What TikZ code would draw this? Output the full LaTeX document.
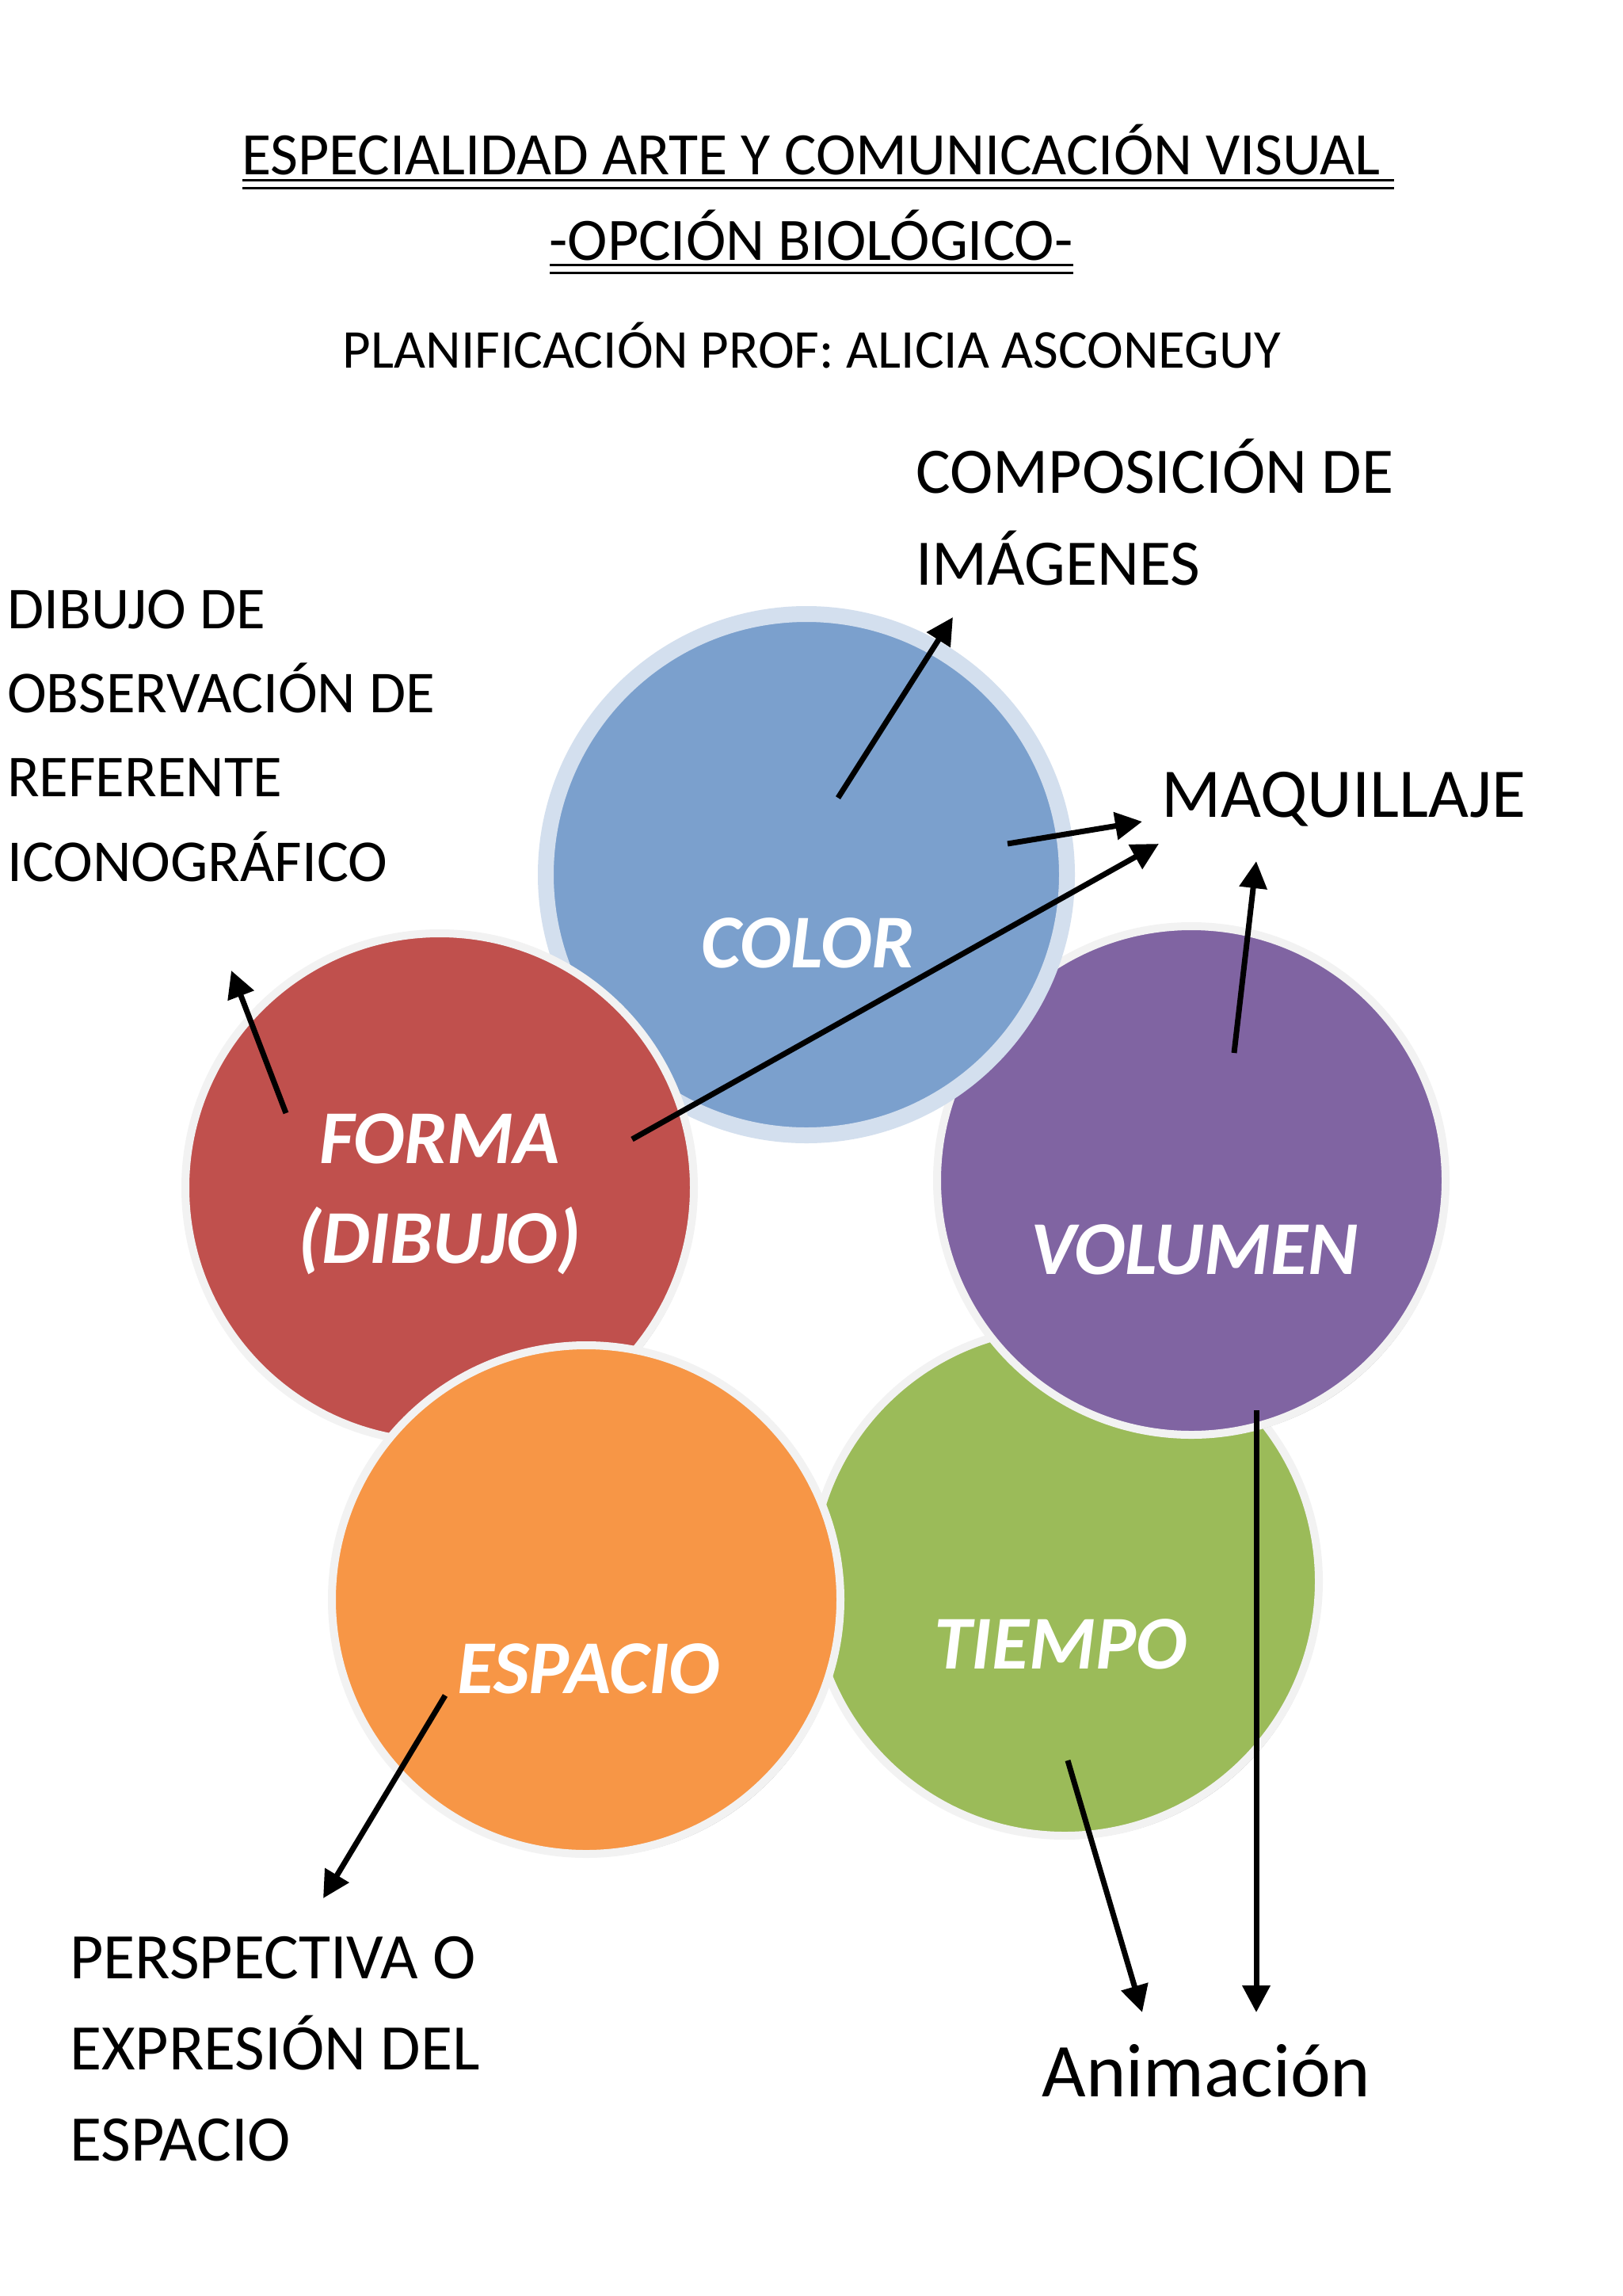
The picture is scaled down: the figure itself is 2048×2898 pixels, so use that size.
\documentclass[tikz,border=0pt]{standalone}
\usepackage{fontspec}
\setmainfont{Carlito}
\usetikzlibrary{arrows.meta,shadows}
\definecolor{cblue}{HTML}{7BA0CD}
\definecolor{cbluering}{HTML}{D3DFEE}
\definecolor{cred}{HTML}{C0504D}
\definecolor{cpurple}{HTML}{8064A2}
\definecolor{cgreen}{HTML}{9BBB59}
\definecolor{corange}{HTML}{F79646}
\definecolor{cring}{HTML}{F2F2F2}
\begin{document}
\begin{tikzpicture}[x=1pt,y=-1pt,
  disc/.style={circle,inner sep=0pt,outer sep=0pt,minimum size=642pt,draw=cring,line width=10pt,
    drop shadow={shadow xshift=3pt,shadow yshift=-4pt,opacity=0.35,fill=black}},
  lbl/.style={inner sep=0pt,anchor=base,text=white,font=\fontsize{96}{110}\selectfont\bfseries\itshape},
  side/.style={inner sep=0pt,anchor=base west,text=black},
  ttl/.style={inner sep=0pt,anchor=base,text=black},
  uline/.style={line width=3pt,black},
  conn/.style={line width=7pt,black,-{Triangle[length=34pt,width=34pt]}}]
\useasboundingbox (0,0) rectangle (2048,2898);
\fill[white] (0,0) rectangle (2048,2898);

% title
\node[ttl,font=\fontsize{76}{90}\selectfont] (t1) at (1024,221) {ESPECIALIDAD ARTE Y COMUNICACIÓN VISUAL};
\node[ttl,font=\fontsize{76}{90}\selectfont] (t2) at (1024,328) {-OPCIÓN BIOLÓGICO-};
\node[ttl,font=\fontsize{69}{80}\selectfont] (t3) at (1025,464) {PLANIFICACIÓN PROF: ALICIA ASCONEGUY};
\draw[uline] (306,227) -- (1760,227);
\draw[uline] (306,237) -- (1760,237);
\draw[uline] (694,334) -- (1355,334);
\draw[uline] (694,344) -- (1355,344);

% circles (bottom to top)
\node[disc,fill=cgreen] (tiempo) at (1344,1996) {};
\node[disc,fill=cpurple] (volumen) at (1504,1490) {};
\node[circle,inner sep=0pt,outer sep=0pt,minimum size=658pt,draw=cbluering,line width=20pt,fill=cblue] (color) at (1018,1104) {};
\node[disc,fill=cred] (forma) at (555,1499) {};
\node[disc,fill=corange] (espacio) at (740,2019) {};

% circle labels
\node[lbl] (lcolor) at (1020,1221) {COLOR};
\node[lbl] (lforma1) at (555,1468) {FORMA};
\node[lbl] (lforma2) at (555,1594) {(DIBUJO)};
\node[lbl] (lvol) at (1508,1608) {VOLUMEN};
\node[lbl] (lesp) at (743,2137) {ESPACIO};
\node[lbl] (ltiem) at (1339,2106) {TIEMPO};

% side labels
\node[side,font=\fontsize{75}{90}\selectfont] (dib1) at (9,793) {DIBUJO DE};
\node[side,font=\fontsize{75}{90}\selectfont] (dib2) at (9,899) {OBSERVACIÓN DE};
\node[side,font=\fontsize{75}{90}\selectfont] (dib3) at (9,1005) {REFERENTE};
\node[side,font=\fontsize{75}{90}\selectfont] (dib4) at (9,1112) {ICONOGRÁFICO};
\node[side,font=\fontsize{82}{95}\selectfont] (comp1) at (1156,622) {COMPOSICIÓN DE};
\node[side,font=\fontsize{82}{95}\selectfont] (comp2) at (1156,738) {IMÁGENES};
\node[side,font=\fontsize{88}{100}\selectfont] (maq) at (1466,1031) {MAQUILLAJE};
\node[side,font=\fontsize{82}{95}\selectfont] (per1) at (88,2497) {PERSPECTIVA O};
\node[side,font=\fontsize{82}{95}\selectfont] (per2) at (88,2612) {EXPRESIÓN DEL};
\node[side,font=\fontsize{82}{95}\selectfont] (per3) at (88,2727) {ESPACIO};
\node[ttl,font=\fontsize{96}{110}\selectfont] (anim) at (1523,2646) {Animación};

% arrow end points
\coordinate (s1) at (1058,1007); \coordinate (e1) at (1203,779);
\coordinate (s2) at (1272,1065); \coordinate (e2) at (1442,1037);
\coordinate (s3) at (798,1438);  \coordinate (e3) at (1463,1065);
\coordinate (s4) at (361,1405);  \coordinate (e4) at (292,1225);
\coordinate (s5) at (1558,1329); \coordinate (e5) at (1586,1087);
\coordinate (s6) at (1586,1780); \coordinate (e6) at (1586,2540);
\coordinate (s7) at (1348,2222); \coordinate (e7) at (1442,2540);
\coordinate (s8) at (562,2140);  \coordinate (e8) at (408,2396);

\draw[conn] (s1) -- (e1);
\draw[conn] (s2) -- (e2);
\draw[conn] (s3) -- (e3);
\draw[conn] (s4) -- (e4);
\draw[conn] (s5) -- (e5);
\draw[conn] (s6) -- (e6);
\draw[conn] (s7) -- (e7);
\draw[conn] (s8) -- (e8);
\end{tikzpicture}
\end{document}
